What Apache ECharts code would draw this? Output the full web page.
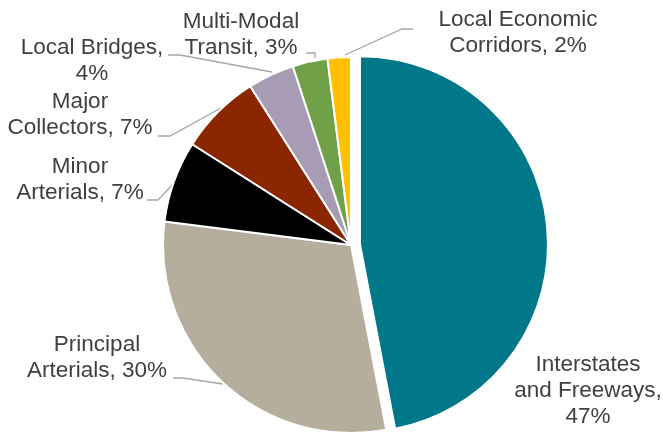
<!DOCTYPE html>
<html>
<head>
<meta charset="utf-8">
<script src="https://cdn.jsdelivr.net/npm/echarts@6/dist/echarts.min.js"></script>
<style>
  html, body { margin: 0; padding: 0; background: #fff; }
  #chart { width: 663px; height: 434px; }
</style>
</head>
<body>
<div id="chart"></div>
<script>
// categories and shares (clockwise from 12 o'clock)
const categories = ['Interstates and Freeways', 'Principal Arterials', 'Minor Arterials', 'Major Collectors', 'Local Bridges', 'Multi-Modal Transit', 'Local Economic Corridors']
const shares = [47, 30, 7, 7, 4, 3, 2]
// how each label wraps
const labelNames = ['Interstates\nand Freeways,\n', 'Principal\nArterials, ', 'Minor\nArterials, ', 'Major\nCollectors, ', 'Local Bridges,\n', 'Multi-Modal\nTransit, ', 'Local Economic\nCorridors, ']
const colors = ['#00788A', '#B5AE9C', '#000000', '#8B2700', '#A89CB4', '#70A048', '#FFC000']

// label block centres and leader lines (layout only)
const labelPos = [
  { x: 588, y: 391, line: null },
  { x: 97, y: 358, line: [[223, 384], [183, 378], [173, 378]] },
  { x: 80, y: 180, line: [[176, 181], [158, 200], [147, 200]] },
  { x: 80, y: 115, line: [[221, 108], [170, 136], [158, 136]] },
  { x: 92, y: 61, line: [[272, 72], [180, 55], [168, 55]] },
  { x: 241, y: 35, line: [[315, 58], [315, 53], [306, 53]] },
  { x: 518, y: 33, line: [[345, 55], [402, 29], [413, 29]] },
]

const center = [351, 245]
const radius = 188
const explode = 9 // the first slice is pulled out
const total = shares.reduce((a, b) => a + b, 0)
const midAngle = (shares[0] / total) * Math.PI // radians clockwise from 12 o'clock
const explodedCenter = [center[0] + explode * Math.sin(midAngle), center[1] - explode * Math.cos(midAngle)]

const chart = echarts.init(document.getElementById('chart'))

const baseSeries = {
  type: 'pie',
  radius: radius,
  startAngle: 90,
  clockwise: true,
  emphasis: { disabled: true },
  itemStyle: { borderColor: '#fff', borderWidth: 2 },
}

chart.setOption({
  animation: false,
  series: [
    // main pie, the first slice left empty here
    {
      ...baseSeries,
      center: center,
      label: {
        show: true,
        formatter: p => labelNames[p.dataIndex] + p.value + '%',
        fontFamily: 'Liberation Sans, Arial, sans-serif',
        fontSize: 22.5,
        lineHeight: 26,
        color: '#404040',
        align: 'center',
        overflow: 'none',
      },
      labelLine: {
        show: true,
        lineStyle: { color: '#A6A6A6', width: 1.3 },
      },
      labelLayout: params => {
        const p = labelPos[params.dataIndex]
        const out = { x: p.x, y: p.y, align: 'center', verticalAlign: 'middle' }
        if (p.line) out.labelLinePoints = p.line
        return out
      },
      data: categories.map((name, i) => ({
        name,
        value: shares[i],
        itemStyle: i === 0 ? { color: 'transparent', borderColor: 'transparent' } : { color: colors[i] },
        labelLine: { show: i !== 0 },
      })),
    },
    // exploded first slice
    {
      ...baseSeries,
      center: explodedCenter,
      silent: true,
      label: { show: false },
      labelLine: { show: false },
      data: categories.map((name, i) => ({
        name,
        value: shares[i],
        itemStyle: i === 0 ? { color: colors[0] } : { color: 'transparent', borderColor: 'transparent' },
      })),
    },
  ],
})
</script>
</body>
</html>
